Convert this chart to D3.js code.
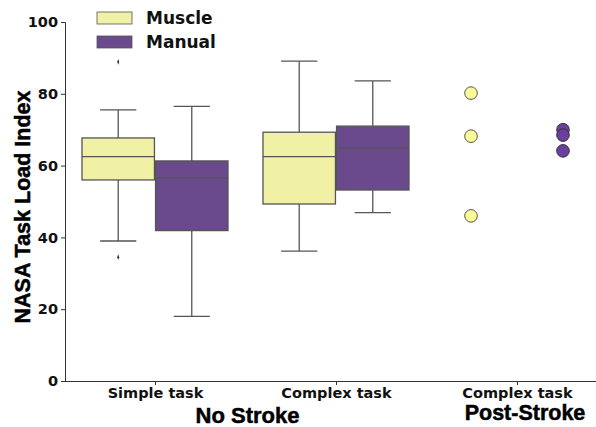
<!DOCTYPE html>
<html><head><meta charset="utf-8">
<script src="https://cdn.jsdelivr.net/npm/d3@7"></script>
<style>body{margin:0;background:#fff}</style>
</head><body>
<svg id="c" width="596" height="427"></svg>
<script>
const categories = ["Simple task", "Complex task", "Complex task (post)"];
const tickLabels = ["Simple task", "Complex task", "Complex task"];
const hues = ["Muscle", "Manual"];
const groupLabels = ["No Stroke", "Post-Stroke"];
const yTicks = [0, 20, 40, 60, 80, 100];
// box stats: [whiskerLow, q1, median, q3, whiskerHigh]
const muscleBoxes = [[39.0, 56.0, 62.5, 67.7, 75.5], [36.2, 49.3, 62.5, 69.3, 89.1]];
const manualBoxes = [[18.0, 41.9, 56.6, 61.3, 76.5], [46.9, 53.2, 64.9, 71.0, 83.6]];
const muscleOutliers = [[88.9, 34.5], []];
const manualOutliers = [[], []];
const musclePost = [80.2, 68.2, 46.0];
const manualPost = [70.0, 68.5, 64.1];

const svg = d3.select("#c");
const y = d3.scaleLinear().domain([0, 100]).range([381, 22]);
const x = d3.scalePoint().domain(categories).range([155, 517]);
const inner = d3.scaleBand().domain(hues).range([-73, 73]).paddingInner(0.015);
const innerPts = d3.scalePoint().domain(hues).range([-46, 46]);
const fill = {Muscle: "#f0f1a4", Manual: "#6a4a8d"};
const ptFill = {Muscle: "#fbfa94", Manual: "#6b3fa0"};
const edge = "#555";

// axes
const yAxis = d3.axisLeft(y).tickValues(yTicks).tickSize(4).tickPadding(3);
const gy = svg.append("g").attr("transform", "translate(65,0)").call(yAxis);
gy.select(".domain").attr("stroke", "#333").attr("stroke-width", 1);
gy.selectAll(".tick line").attr("stroke", "#333");
gy.selectAll("text").attr("font-family", "DejaVu Sans").attr("font-weight", "bold").attr("font-size", 14.5).attr("fill", "#111");

const xAxis = d3.axisBottom(x).tickSize(4).tickPadding(3).tickFormat((d, i) => tickLabels[i]);
const gx = svg.append("g").attr("transform", "translate(0,381)").call(xAxis);
gx.select(".domain").attr("d", "M65,0.5H596").attr("stroke", "#333");
gx.selectAll(".tick line").attr("stroke", "#333");
gx.selectAll("text").attr("font-family", "DejaVu Sans").attr("font-weight", "bold").attr("font-size", 14.5).attr("fill", "#111");

// boxes
const boxData = [];
[0, 1].forEach(ci => {
  boxData.push({cat: categories[ci], hue: "Muscle", s: muscleBoxes[ci], out: muscleOutliers[ci]});
  boxData.push({cat: categories[ci], hue: "Manual", s: manualBoxes[ci], out: manualOutliers[ci]});
});
const bw = inner.bandwidth();
boxData.forEach(b => {
  const x0 = x(b.cat) + inner(b.hue);
  const xc = x0 + bw / 2;
  const g = svg.append("g");
  g.append("line").attr("x1", xc).attr("x2", xc).attr("y1", y(b.s[0])).attr("y2", y(b.s[1])).attr("stroke", edge).attr("stroke-width", 1.3);
  g.append("line").attr("x1", xc).attr("x2", xc).attr("y1", y(b.s[3])).attr("y2", y(b.s[4])).attr("stroke", edge).attr("stroke-width", 1.3);
  [b.s[0], b.s[4]].forEach(v => g.append("line").attr("x1", xc - bw / 4).attr("x2", xc + bw / 4).attr("y1", y(v)).attr("y2", y(v)).attr("stroke", edge).attr("stroke-width", 1.3));
  g.append("rect").attr("x", x0).attr("width", bw).attr("y", y(b.s[3])).attr("height", y(b.s[1]) - y(b.s[3])).attr("fill", fill[b.hue]).attr("stroke", edge).attr("stroke-width", 1.3);
  g.append("line").attr("x1", x0).attr("x2", x0 + bw).attr("y1", y(b.s[2])).attr("y2", y(b.s[2])).attr("stroke", edge).attr("stroke-width", 1.3);
  b.out.forEach(v => g.append("path").attr("d", d3.symbol(d3.symbolDiamond, 10)()).attr("transform", `translate(${xc},${y(v)}) scale(0.6,1)`).attr("fill", "#333"));
});

// post-stroke points
const pts = [];
musclePost.forEach(v => pts.push({hue: "Muscle", v}));
manualPost.forEach(v => pts.push({hue: "Manual", v}));
svg.append("g").selectAll("circle").data(pts).join("circle")
  .attr("cx", d => x(categories[2]) + innerPts(d.hue))
  .attr("cy", d => y(d.v)).attr("r", 6.3)
  .attr("fill", d => ptFill[d.hue]).attr("stroke", d => d.hue === "Muscle" ? "#555" : "#333").attr("stroke-width", 1);

// legend
const lg = svg.append("g");
hues.forEach((h, i) => {
  lg.append("rect").attr("x", 97).attr("y", 12 + i * 24).attr("width", 35).attr("height", 12).attr("fill", fill[h]).attr("stroke", edge).attr("stroke-width", 0.8);
  lg.append("text").attr("x", 146).attr("y", 24 + i * 24).text(h).attr("font-family", "DejaVu Sans").attr("font-weight", "bold").attr("font-size", 17).attr("fill", "#111");
});

// y title
svg.append("text").attr("transform", "translate(30,207) rotate(-90)").attr("text-anchor", "middle")
  .attr("font-family", "Liberation Sans, Arial").attr("font-weight", "bold").attr("font-size", 21.5)
  .attr("fill", "#000").attr("stroke", "#000").attr("stroke-width", 0.5).text("NASA Task Load Index");

// group labels
svg.append("text").attr("x", (x(categories[0]) + x(categories[1])) / 2 + 2).attr("y", 423).attr("text-anchor", "middle")
  .attr("font-family", "Liberation Sans, Arial").attr("font-weight", "bold").attr("font-size", 22)
  .attr("fill", "#000").attr("stroke", "#000").attr("stroke-width", 0.5).text(groupLabels[0]);
svg.append("text").attr("x", x(categories[2]) + 8).attr("y", 420).attr("text-anchor", "middle")
  .attr("font-family", "Liberation Sans, Arial").attr("font-weight", "bold").attr("font-size", 21.5)
  .attr("fill", "#000").attr("stroke", "#000").attr("stroke-width", 0.5).text(groupLabels[1]);
</script>
</body></html>
